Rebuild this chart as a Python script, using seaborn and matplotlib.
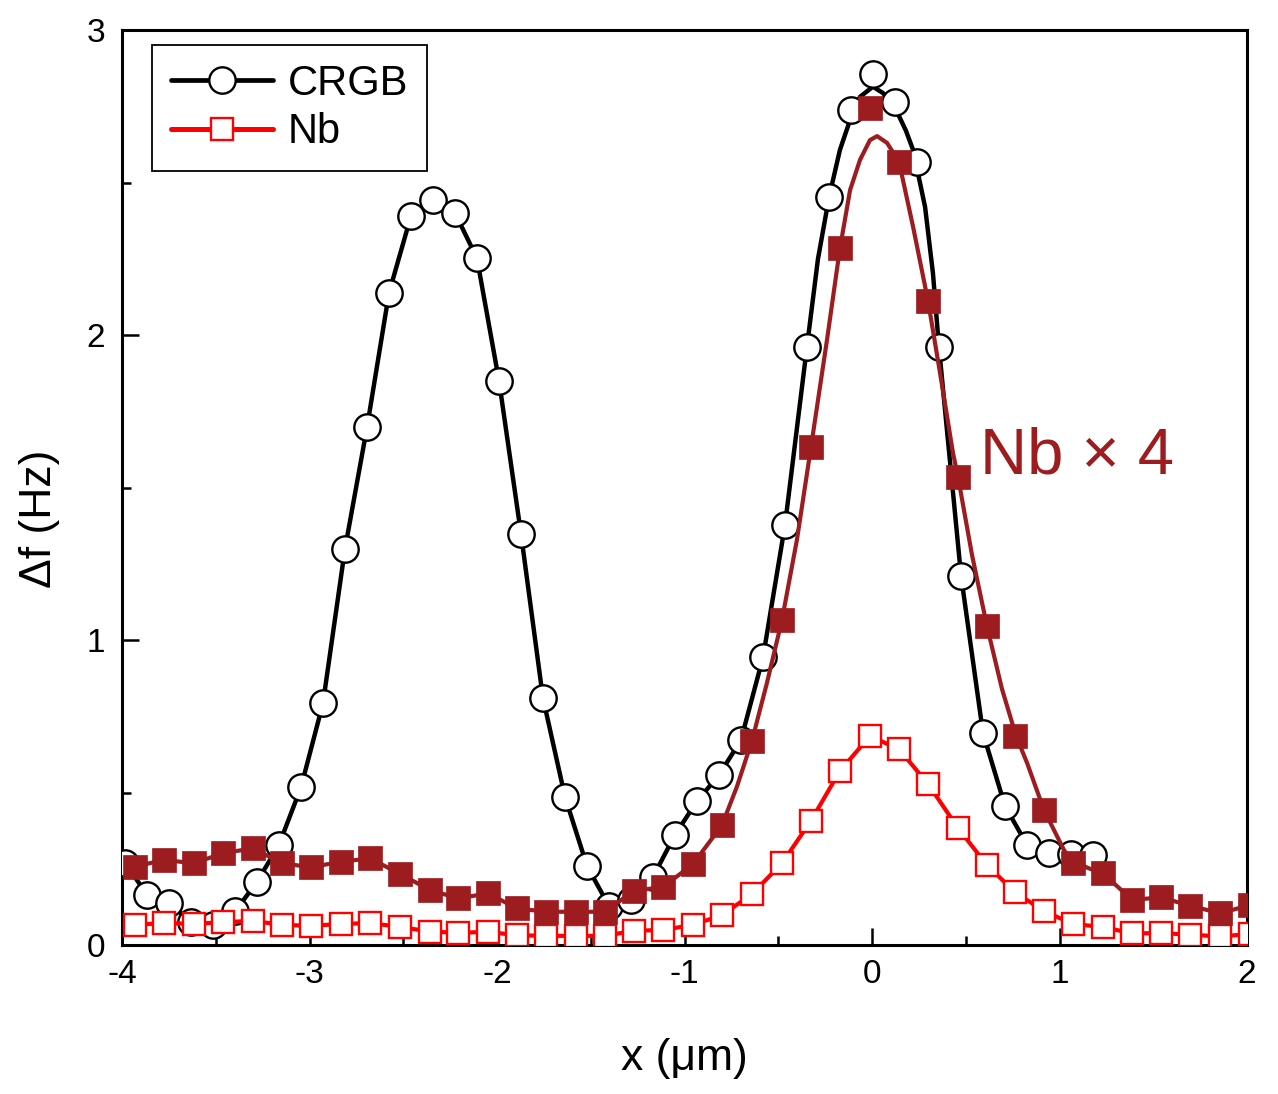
import matplotlib
matplotlib.use("Agg")
import matplotlib.pyplot as plt
from matplotlib.lines import Line2D
from matplotlib.ticker import MultipleLocator
import seaborn as sns

# CRGB scan (open circles)
crgb_x = [-3.984, -3.867, -3.749, -3.632, -3.515, -3.397, -3.280, -3.163, -3.045,
          -2.928, -2.811, -2.693, -2.576, -2.459, -2.341, -2.224, -2.107, -1.989,
          -1.872, -1.755, -1.637, -1.520, -1.403, -1.285, -1.168, -1.051, -0.933,
          -0.816, -0.699, -0.581, -0.464, -0.347, -0.229, -0.112, 0.005, 0.123,
          0.240, 0.357, 0.475, 0.592, 0.709, 0.827, 0.944, 1.061, 1.179]
crgb_y = [0.27, 0.165, 0.138, 0.075, 0.066, 0.11, 0.207, 0.328, 0.518,
          0.793, 1.298, 1.698, 2.138, 2.39, 2.443, 2.40, 2.252, 1.849,
          1.348, 0.81, 0.485, 0.259, 0.128, 0.148, 0.223, 0.361, 0.472,
          0.557, 0.672, 0.944, 1.377, 1.961, 2.452, 2.738, 2.856, 2.764,
          2.567, 1.961, 1.21, 0.695, 0.456, 0.328, 0.302, 0.298, 0.295]

# smooth black curve drawn through the CRGB data
crgb_fit_x = crgb_x[:31] + [-0.347, -0.288, -0.229, -0.171, -0.117, -0.064, 0.005,
                            0.059, 0.123, 0.181, 0.219, 0.283, 0.325, 0.357] + crgb_x[38:]
crgb_fit_y = crgb_y[:31] + [1.961, 2.25, 2.452, 2.607, 2.705, 2.781, 2.814,
                            2.793, 2.745, 2.67, 2.607, 2.42, 2.203, 1.961] + crgb_y[38:]

# Nb scan (open squares) and Nb x 4 (filled squares)
nb_x = [-3.931, -3.776, -3.616, -3.461, -3.301, -3.147, -2.992, -2.832, -2.677,
        -2.517, -2.357, -2.208, -2.048, -1.893, -1.739, -1.579, -1.424, -1.269,
        -1.115, -0.955, -0.800, -0.640, -0.480, -0.325, -0.171, -0.011, 0.144,
        0.299, 0.459, 0.613, 0.763, 0.917, 1.072, 1.232, 1.387, 1.541, 1.696,
        1.856, 2.016]
nb_y = [0.066, 0.072, 0.069, 0.075, 0.079, 0.066, 0.063, 0.069, 0.072,
        0.059, 0.044, 0.040, 0.043, 0.032, 0.030, 0.030, 0.030, 0.047,
        0.049, 0.066, 0.098, 0.167, 0.268, 0.408, 0.571, 0.685, 0.642,
        0.528, 0.383, 0.262, 0.173, 0.111, 0.069, 0.059, 0.038, 0.039,
        0.034, 0.028, 0.036]
nb4_y = [0.257, 0.279, 0.268, 0.301, 0.317, 0.268, 0.255, 0.273, 0.284,
         0.233, 0.180, 0.153, 0.169, 0.120, 0.109, 0.109, 0.109, 0.178,
         0.190, 0.265, 0.393, 0.670, 1.066, 1.634, 2.284, 2.745, 2.568,
         2.111, 1.534, 1.046, 0.686, 0.443, 0.270, 0.235, 0.148, 0.156,
         0.129, 0.104, 0.131]

# dark red fit curve around the main peak
nb4_fit_x = nb_x[:20] + [-0.800, -0.720, -0.640, -0.560, -0.480, -0.400, -0.325,
                         -0.240, -0.171, -0.117, -0.064, -0.011, 0.027, 0.080,
                         0.144, 0.219, 0.299, 0.363, 0.432, 0.459, 0.533, 0.613,
                         0.693, 0.768, 0.827, 0.917, 1.024, 1.072] + nb_x[33:]
nb4_fit_y = nb4_y[:20] + [0.393, 0.52, 0.670, 0.86, 1.066, 1.33, 1.634,
                          1.984, 2.284, 2.475, 2.574, 2.639, 2.652, 2.63,
                          2.568, 2.355, 2.111, 1.875, 1.613, 1.534, 1.28, 1.046,
                          0.84, 0.686, 0.597, 0.443, 0.311, 0.27] + nb4_y[33:]

dark_red = '#9d1c20'

sns.set_style("ticks")
plt.rcParams['font.family'] = ['Liberation Sans', 'DejaVu Sans']
plt.rcParams['axes.unicode_minus'] = False
plt.rcParams['text.color'] = 'black'
plt.rcParams['axes.labelcolor'] = 'black'
plt.rcParams['xtick.color'] = 'black'
plt.rcParams['ytick.color'] = 'black'

fig = plt.figure(figsize=(12.78, 10.94), dpi=100)
ax = fig.add_axes([122 / 1278, 1 - 945 / 1094, 1125 / 1278, 915 / 1094])

# CRGB
sns.lineplot(x=crgb_fit_x, y=crgb_fit_y, ax=ax, color='black', linewidth=3.2,
             sort=False, estimator=None, zorder=2)
sns.lineplot(x=crgb_x, y=crgb_y, ax=ax, color='black', linestyle='none',
             marker='o', markersize=19, markerfacecolor='white',
             markeredgecolor='black', markeredgewidth=1.7,
             sort=False, estimator=None, zorder=3)

# Nb
sns.lineplot(x=nb_x, y=nb_y, ax=ax, color='#ff0000', linewidth=3.0,
             sort=False, estimator=None, zorder=4)
sns.lineplot(x=nb_x, y=nb_y, ax=ax, color='#ff0000', linestyle='none',
             marker='s', markersize=16.5, markerfacecolor='white',
             markeredgecolor='#ff0000', markeredgewidth=1.7,
             sort=False, estimator=None, zorder=5)

# Nb x 4
sns.lineplot(x=nb4_fit_x, y=nb4_fit_y, ax=ax, color=dark_red, linewidth=3.0,
             sort=False, estimator=None, zorder=6)
sns.lineplot(x=nb_x, y=nb4_y, ax=ax, color=dark_red, linestyle='none',
             marker='s', markersize=17.5, markerfacecolor=dark_red,
             markeredgecolor=dark_red, markeredgewidth=0.5,
             sort=False, estimator=None, zorder=7)

ax.text(0.576, 1.6, 'Nb × 4', color=dark_red, fontsize=47,
        ha='left', va='center')

ax.set_xlim(-4, 2)
ax.set_ylim(0, 3)
ax.xaxis.set_major_locator(MultipleLocator(1))
ax.xaxis.set_minor_locator(MultipleLocator(0.5))
ax.yaxis.set_major_locator(MultipleLocator(1))
ax.yaxis.set_minor_locator(MultipleLocator(0.5))
ax.tick_params(which='both', direction='in', top=False, right=False,
               width=1.8, labelsize=24, colors='black')
ax.tick_params(which='major', length=12)
ax.tick_params(which='minor', length=6.5)
ax.tick_params(axis='x', pad=10)
ax.tick_params(axis='y', pad=12)
for sp in ax.spines.values():
    sp.set_visible(True)
    sp.set_linewidth(2.2)
    sp.set_color('black')

ax.set_xlabel('x (μm)', fontsize=32, color='black')
ax.set_ylabel('Δf (Hz)', fontsize=32, color='black')
ax.xaxis.set_label_coords(0.5, -0.1235)
ax.xaxis.label.set_va('center')
ax.yaxis.set_label_coords(-0.0729, 0.466)
ax.yaxis.label.set_va('center')

handles = [
    Line2D([], [], color='black', linewidth=3.4, marker='o', markersize=19,
           markerfacecolor='white', markeredgecolor='black', markeredgewidth=1.7),
    Line2D([], [], color='#ff0000', linewidth=3.6, marker='s', markersize=16.5,
           markerfacecolor='white', markeredgecolor='#ff0000', markeredgewidth=1.7),
]
leg = ax.legend(handles, ['CRGB', 'Nb'], loc='upper left',
                bbox_to_anchor=(0.0267, 0.9836), borderaxespad=0,
                fontsize=30, handlelength=2.45, handletextpad=0.35,
                labelspacing=0.2, borderpad=0.45, numpoints=1,
                frameon=True, fancybox=False, framealpha=1,
                labelcolor='black')
leg.get_frame().set_edgecolor('black')
leg.get_frame().set_linewidth(1.3)

fig.savefig('out.png', dpi=100)
